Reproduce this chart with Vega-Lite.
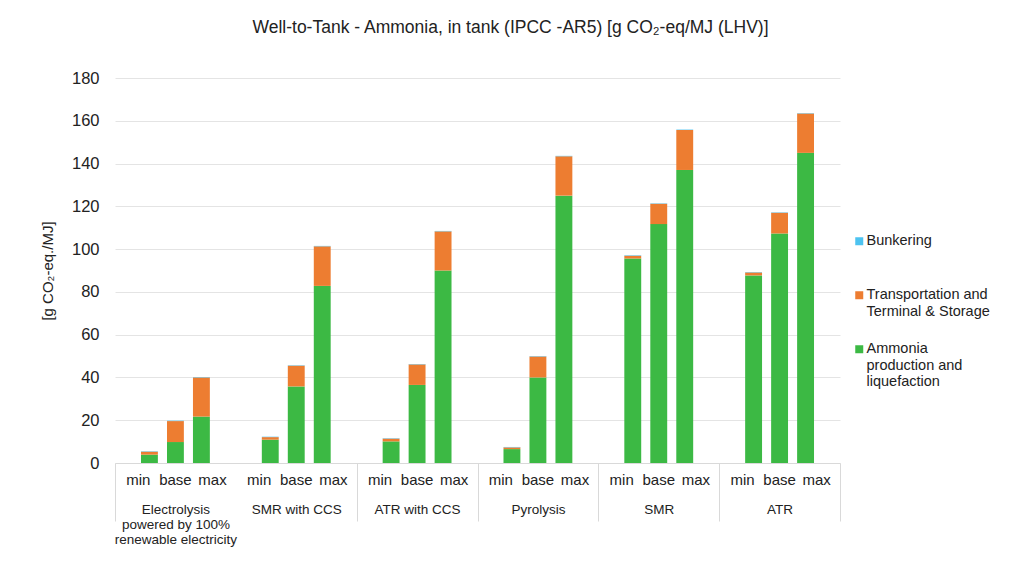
{
  "$schema": "https://vega.github.io/schema/vega-lite/v6.json",
  "width": 725,
  "height": 385,
  "autosize": {"type": "none"},
  "padding": {"left": 115, "top": 78, "right": 184, "bottom": 98},
  "background": "white",
  "config": {"font": "Liberation Sans", "view": {"stroke": null}},
  "title": {
    "text": "Well-to-Tank - Ammonia, in tank (IPCC -AR5) [g CO₂-eq/MJ (LHV)]",
    "fontSize": 17.5, "fontWeight": "normal", "color": "#222222",
    "anchor": "middle", "frame": "group", "offset": 34, "dx": 33
  },
  "data": {
    "values": [
      {"group": "Electrolysis", "level": "min", "component": "Ammonia production and liquefaction", "value": 3.9},
      {"group": "Electrolysis", "level": "min", "component": "Transportation and Terminal & Storage", "value": 1.4},
      {"group": "Electrolysis", "level": "min", "component": "Bunkering", "value": 0.2},
      {"group": "Electrolysis", "level": "base", "component": "Ammonia production and liquefaction", "value": 9.8},
      {"group": "Electrolysis", "level": "base", "component": "Transportation and Terminal & Storage", "value": 9.8},
      {"group": "Electrolysis", "level": "base", "component": "Bunkering", "value": 0.2},
      {"group": "Electrolysis", "level": "max", "component": "Ammonia production and liquefaction", "value": 21.7},
      {"group": "Electrolysis", "level": "max", "component": "Transportation and Terminal & Storage", "value": 18.3},
      {"group": "Electrolysis", "level": "max", "component": "Bunkering", "value": 0.2},
      {"group": "SMR with CCS", "level": "min", "component": "Ammonia production and liquefaction", "value": 10.9},
      {"group": "SMR with CCS", "level": "min", "component": "Transportation and Terminal & Storage", "value": 1.2},
      {"group": "SMR with CCS", "level": "min", "component": "Bunkering", "value": 0.2},
      {"group": "SMR with CCS", "level": "base", "component": "Ammonia production and liquefaction", "value": 35.8},
      {"group": "SMR with CCS", "level": "base", "component": "Transportation and Terminal & Storage", "value": 9.7},
      {"group": "SMR with CCS", "level": "base", "component": "Bunkering", "value": 0.2},
      {"group": "SMR with CCS", "level": "max", "component": "Ammonia production and liquefaction", "value": 82.8},
      {"group": "SMR with CCS", "level": "max", "component": "Transportation and Terminal & Storage", "value": 18.5},
      {"group": "SMR with CCS", "level": "max", "component": "Bunkering", "value": 0.2},
      {"group": "ATR with CCS", "level": "min", "component": "Ammonia production and liquefaction", "value": 10.1},
      {"group": "ATR with CCS", "level": "min", "component": "Transportation and Terminal & Storage", "value": 1.3},
      {"group": "ATR with CCS", "level": "min", "component": "Bunkering", "value": 0.2},
      {"group": "ATR with CCS", "level": "base", "component": "Ammonia production and liquefaction", "value": 36.5},
      {"group": "ATR with CCS", "level": "base", "component": "Transportation and Terminal & Storage", "value": 9.6},
      {"group": "ATR with CCS", "level": "base", "component": "Bunkering", "value": 0.2},
      {"group": "ATR with CCS", "level": "max", "component": "Ammonia production and liquefaction", "value": 90.0},
      {"group": "ATR with CCS", "level": "max", "component": "Transportation and Terminal & Storage", "value": 18.3},
      {"group": "ATR with CCS", "level": "max", "component": "Bunkering", "value": 0.2},
      {"group": "Pyrolysis", "level": "min", "component": "Ammonia production and liquefaction", "value": 6.5},
      {"group": "Pyrolysis", "level": "min", "component": "Transportation and Terminal & Storage", "value": 0.8},
      {"group": "Pyrolysis", "level": "min", "component": "Bunkering", "value": 0.2},
      {"group": "Pyrolysis", "level": "base", "component": "Ammonia production and liquefaction", "value": 40.0},
      {"group": "Pyrolysis", "level": "base", "component": "Transportation and Terminal & Storage", "value": 9.8},
      {"group": "Pyrolysis", "level": "base", "component": "Bunkering", "value": 0.2},
      {"group": "Pyrolysis", "level": "max", "component": "Ammonia production and liquefaction", "value": 125.0},
      {"group": "Pyrolysis", "level": "max", "component": "Transportation and Terminal & Storage", "value": 18.4},
      {"group": "Pyrolysis", "level": "max", "component": "Bunkering", "value": 0.2},
      {"group": "SMR", "level": "min", "component": "Ammonia production and liquefaction", "value": 95.6},
      {"group": "SMR", "level": "min", "component": "Transportation and Terminal & Storage", "value": 1.3},
      {"group": "SMR", "level": "min", "component": "Bunkering", "value": 0.2},
      {"group": "SMR", "level": "base", "component": "Ammonia production and liquefaction", "value": 111.7},
      {"group": "SMR", "level": "base", "component": "Transportation and Terminal & Storage", "value": 9.5},
      {"group": "SMR", "level": "base", "component": "Bunkering", "value": 0.2},
      {"group": "SMR", "level": "max", "component": "Ammonia production and liquefaction", "value": 137.0},
      {"group": "SMR", "level": "max", "component": "Transportation and Terminal & Storage", "value": 18.7},
      {"group": "SMR", "level": "max", "component": "Bunkering", "value": 0.2},
      {"group": "ATR", "level": "min", "component": "Ammonia production and liquefaction", "value": 87.7},
      {"group": "ATR", "level": "min", "component": "Transportation and Terminal & Storage", "value": 1.4},
      {"group": "ATR", "level": "min", "component": "Bunkering", "value": 0.2},
      {"group": "ATR", "level": "base", "component": "Ammonia production and liquefaction", "value": 107.3},
      {"group": "ATR", "level": "base", "component": "Transportation and Terminal & Storage", "value": 9.7},
      {"group": "ATR", "level": "base", "component": "Bunkering", "value": 0.2},
      {"group": "ATR", "level": "max", "component": "Ammonia production and liquefaction", "value": 145.0},
      {"group": "ATR", "level": "max", "component": "Transportation and Terminal & Storage", "value": 18.4},
      {"group": "ATR", "level": "max", "component": "Bunkering", "value": 0.2}
    ]
  },
  "encoding": {
    "x": {
      "field": "group", "type": "nominal",
      "sort": ["Electrolysis", "SMR with CCS", "ATR with CCS", "Pyrolysis", "SMR", "ATR"],
      "scale": {"paddingInner": 0, "paddingOuter": 0},
      "axis": {
        "title": null, "tickBand": "extent", "tickSize": 58, "tickColor": "#d9d9d9",
        "tickOpacity": {"condition": {"test": "datum.value === 'Electrolysis'", "value": 0}, "value": 1},
        "domainColor": "#d9d9d9", "labelAngle": 0, "labelPadding": -19,
        "labelFontSize": 13.5, "labelColor": "#222222", "labelBaseline": "top",
        "labelLineHeight": 15,
        "labelExpr": "datum.value == 'Electrolysis' ? ['Electrolysis', 'powered by 100%', 'renewable electricity'] : datum.value"
      }
    }
  },
  "resolve": {"scale": {"xOffset": "independent"}},
  "layer": [
    {
      "mark": {"type": "bar"},
      "transform": [
        {"calculate": "indexof(['Ammonia production and liquefaction', 'Transportation and Terminal & Storage', 'Bunkering'], datum.component)", "as": "stackOrder"}
      ],
      "encoding": {
        "xOffset": {
          "field": "level", "type": "nominal", "sort": ["min", "base", "max"],
          "scale": {"paddingInner": 0.35, "paddingOuter": 1.14}
        },
        "y": {
          "field": "value", "type": "quantitative", "stack": "zero",
          "scale": {"domain": [0, 180]},
          "axis": {
            "title": "[g CO₂-eq./MJ]", "titleFontSize": 15, "titleFontWeight": "normal",
            "titleColor": "#222222", "titlePadding": 16,
            "values": [0, 20, 40, 60, 80, 100, 120, 140, 160, 180],
            "labelFontSize": 16.5, "labelColor": "#222222", "labelPadding": 16,
            "domain": false, "ticks": false, "gridColor": "#e4e4e4"
          }
        },
        "color": {
          "field": "component", "type": "nominal",
          "scale": {
            "domain": ["Bunkering", "Transportation and Terminal & Storage", "Ammonia production and liquefaction"],
            "range": ["#4dc3f0", "#ed7d31", "#3cb944"]
          },
          "legend": {
            "title": null, "orient": "none", "legendX": 737, "legendY": 156,
            "padding": 0, "labelFontSize": 14.5, "labelColor": "#222222",
            "symbolType": "square", "symbolSize": 64, "symbolStrokeWidth": 0,
            "labelLineHeight": 16, "rowPadding": 6, "labelOffset": 0,
            "labelExpr": "datum.label == 'Transportation and Terminal & Storage' ? ['Transportation and', 'Terminal & Storage', ' '] : datum.label == 'Ammonia production and liquefaction' ? ['Ammonia', 'production and', 'liquefaction'] : [datum.label, ' ', ' ']"
          }
        },
        "order": {"field": "stackOrder", "type": "quantitative"}
      }
    },
    {
      "mark": {"type": "text", "dy": 17, "fontSize": 15, "color": "#222222"},
      "transform": [{"filter": "datum.component == 'Bunkering'"}],
      "encoding": {
        "xOffset": {
          "field": "level", "type": "nominal", "sort": ["min", "base", "max"],
          "scale": {"type": "point", "padding": 0.63}
        },
        "y": {"datum": 0, "type": "quantitative"},
        "text": {"field": "level"}
      }
    }
  ]
}
